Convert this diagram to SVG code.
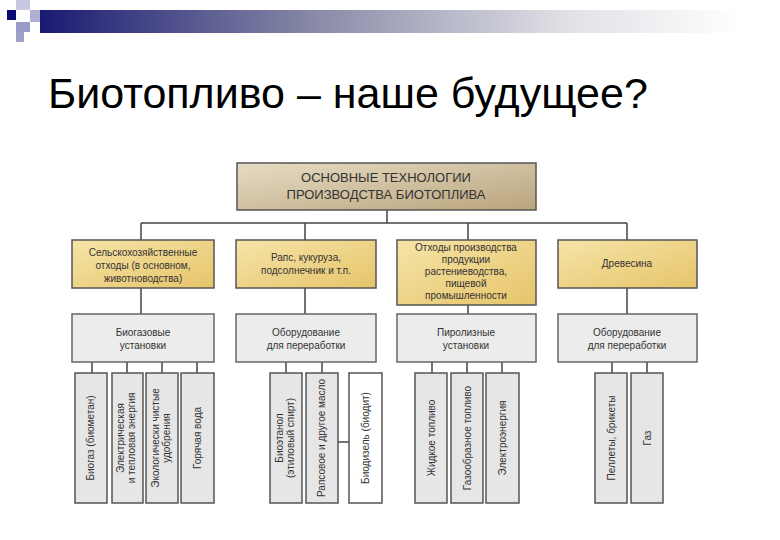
<svg xmlns="http://www.w3.org/2000/svg" width="780" height="540" viewBox="0 0 780 540">
<defs>
<linearGradient id="bar" x1="0" x2="1" y1="0" y2="0"><stop offset="0" stop-color="#1a1a72"/><stop offset="0.4" stop-color="#8a8ca8"/><stop offset="0.75" stop-color="#e0e0e6"/><stop offset="1" stop-color="#ffffff"/></linearGradient>
<linearGradient id="tan" x1="0" x2="1" y1="0" y2="1"><stop offset="0" stop-color="#e6dcc4"/><stop offset="1" stop-color="#b9a47c"/></linearGradient>
<linearGradient id="yel" x1="0" x2="1" y1="0" y2="1"><stop offset="0" stop-color="#f6e4a8"/><stop offset="1" stop-color="#e6c46a"/></linearGradient>
<style>
.t{font-family:"Liberation Sans",Arial,sans-serif;fill:#333;text-anchor:middle}
.b1{stroke:#555;stroke-width:1.5}
.g{fill:#ececec;stroke:#666;stroke-width:1.5}
.v{fill:#e6e6e6;stroke:#555;stroke-width:1.5}
.vt{font-family:"Liberation Sans Narrow","Liberation Sans",sans-serif;font-size:10px;fill:#333;text-anchor:middle}
.c{stroke:#444;stroke-width:1.5;fill:none}
</style>
</defs>
<rect x="40" y="10" width="700" height="23" fill="url(#bar)"/>
<rect x="7" y="10" width="9" height="10" fill="#0a0a70"/>
<rect x="16" y="0" width="14" height="10" fill="#c8c8e0"/>
<rect x="30" y="10" width="10" height="12" fill="#b0b0d4"/>
<rect x="16" y="22" width="14" height="10" fill="#9a9ac8"/>
<rect x="16" y="32" width="8" height="10" fill="#a0a0c8"/>
<text x="48" y="108" font-family="Liberation Sans,Arial,sans-serif" font-size="43" fill="#000">Биотопливо – наше будущее?</text>
<g id="connectors">
<path class="c" d="M387 210V223M141 223H627M141 223V240M305 223V240M468 223V240M627 223V240M141 288V314M305 288V314M468 305V314M627 288V314"/>
<path class="c" d="M92 362V373M127 362V373M162 362V373M197 362V373M286 362V373M322 362V373M338 442H349M432 362V373M467 362V373M502 362V373M612 362V373M647 362V373"/>
</g>
<g id="top"><rect x="237" y="163" width="299" height="47" fill="url(#tan)" class="b1"/><text class="t" x="386" y="182" font-size="13">ОСНОВНЫЕ ТЕХНОЛОГИИ</text><text class="t" x="386" y="199" font-size="13">ПРОИЗВОДСТВА БИОТОПЛИВА</text></g>
<g id="s1"><rect x="72" y="240" width="142" height="48" fill="url(#yel)" class="b1"/><text class="t" x="143" y="256" font-size="10">Сельскохозяйственные</text><text class="t" x="143" y="269" font-size="10">отходы (в основном,</text><text class="t" x="143" y="282" font-size="10">животноводства)</text></g>
<g id="s2"><rect x="236" y="240" width="140" height="48" fill="url(#yel)" class="b1"/><text class="t" x="306" y="261" font-size="10">Рапс, кукуруза,</text><text class="t" x="306" y="274" font-size="10">подсолнечник и т.п.</text></g>
<g id="s3"><rect x="397" y="240" width="139" height="65" fill="url(#yel)" class="b1"/><text class="t" x="466" y="251" font-size="10">Отходы производства</text><text class="t" x="466" y="263" font-size="10">продукции</text><text class="t" x="466" y="275" font-size="10">растениеводства,</text><text class="t" x="466" y="287" font-size="10">пищевой</text><text class="t" x="466" y="299" font-size="10">промышленности</text></g>
<g id="s4"><rect x="558" y="240" width="139" height="48" fill="url(#yel)" class="b1"/><text class="t" x="627" y="267" font-size="10">Древесина</text></g>
<g id="e1"><rect x="72" y="314" width="142" height="48" class="g"/><text class="t" x="143" y="336" font-size="10">Биогазовые</text><text class="t" x="143" y="349" font-size="10">установки</text></g>
<g id="e2"><rect x="236" y="314" width="140" height="48" class="g"/><text class="t" x="306" y="336" font-size="10">Оборудование</text><text class="t" x="306" y="349" font-size="10">для переработки</text></g>
<g id="e3"><rect x="397" y="314" width="139" height="48" class="g"/><text class="t" x="466" y="336" font-size="10">Пиролизные</text><text class="t" x="466" y="349" font-size="10">установки</text></g>
<g id="e4"><rect x="558" y="314" width="139" height="48" class="g"/><text class="t" x="627" y="336" font-size="10">Оборудование</text><text class="t" x="627" y="349" font-size="10">для переработки</text></g>
<g id="p1"><rect x="75" y="373" width="32" height="130" class="v"/><text class="vt" transform="translate(94,438) rotate(-90)">Биогаз (биометан)</text></g>
<g id="p2"><rect x="112" y="373" width="31" height="130" class="v"/><text class="vt" transform="translate(124,438) rotate(-90)">Электрическая</text><text class="vt" transform="translate(135,438) rotate(-90)">и тепловая энергия</text></g>
<g id="p3"><rect x="146" y="373" width="32" height="130" class="v"/><text class="vt" transform="translate(159,438) rotate(-90)">Экологически чистые</text><text class="vt" transform="translate(170,438) rotate(-90)">удобрения</text></g>
<g id="p4"><rect x="181" y="373" width="33" height="130" class="v"/><text class="vt" transform="translate(201,438) rotate(-90)">Горячая вода</text></g>
<g id="p5"><rect x="270" y="373" width="32" height="130" class="v"/><text class="vt" transform="translate(283,438) rotate(-90)">Биоэтанол</text><text class="vt" transform="translate(294,438) rotate(-90)">(этиловый спирт)</text></g>
<g id="p6"><rect x="306" y="373" width="32" height="130" class="v"/><text class="vt" transform="translate(325,438) rotate(-90)">Рапсовое и другое масло</text></g>
<g id="p7"><rect x="349" y="373" width="33" height="130" fill="#fff" stroke="#555" stroke-width="1.5"/><text class="vt" transform="translate(369,438) rotate(-90)">Биодизель (биодит)</text></g>
<g id="p8"><rect x="415" y="373" width="32" height="130" class="v"/><text class="vt" transform="translate(435,438) rotate(-90)">Жидкое топливо</text></g>
<g id="p9"><rect x="451" y="373" width="32" height="130" class="v"/><text class="vt" transform="translate(471,438) rotate(-90)">Газообразное топливо</text></g>
<g id="p10"><rect x="486" y="373" width="33" height="130" class="v"/><text class="vt" transform="translate(506,438) rotate(-90)">Электроэнергия</text></g>
<g id="p11"><rect x="595" y="373" width="32" height="130" class="v"/><text class="vt" transform="translate(615,438) rotate(-90)">Пеллеты, брикеты</text></g>
<g id="p12"><rect x="631" y="373" width="32" height="130" class="v"/><text class="vt" transform="translate(651,438) rotate(-90)">Газ</text></g>
</svg>
